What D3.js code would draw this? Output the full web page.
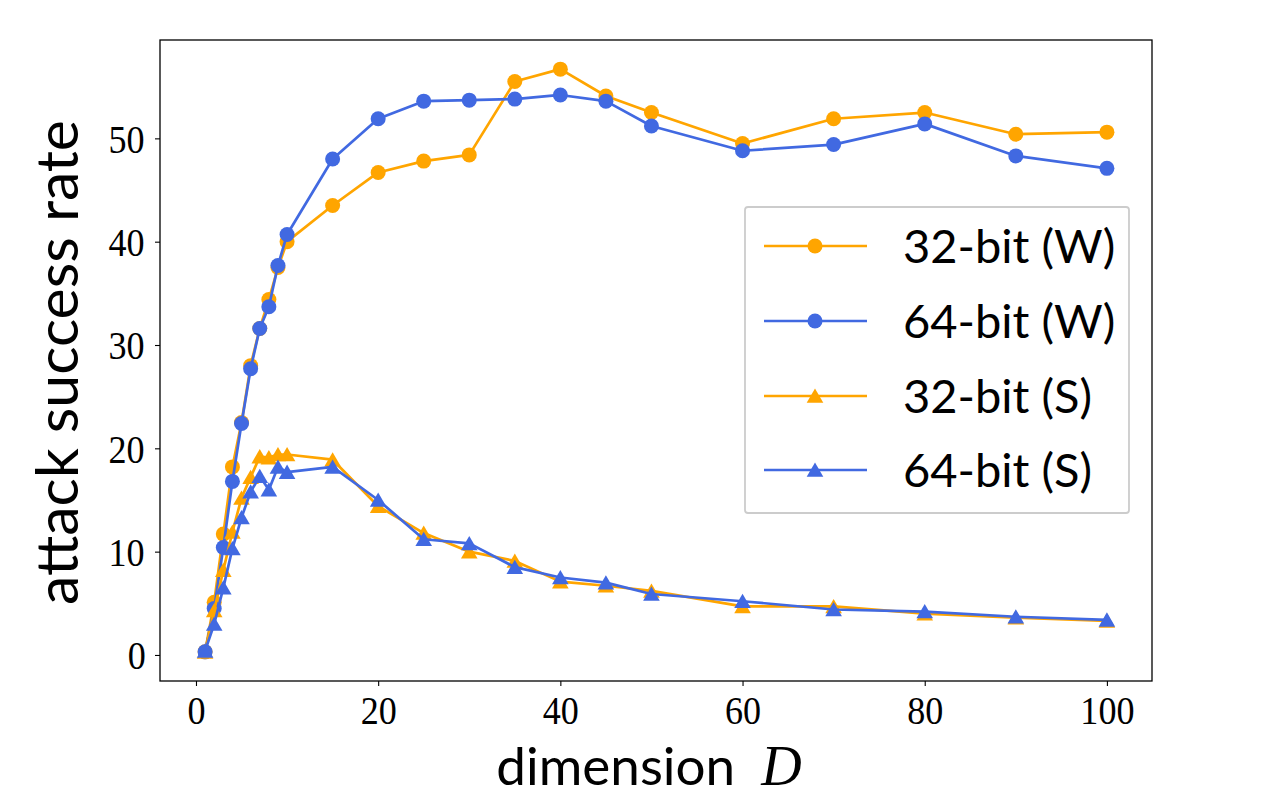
<!DOCTYPE html>
<html>
<head>
<meta charset="utf-8">
<script src="https://cdn.jsdelivr.net/npm/d3@7"></script>
<style>
  html, body { margin: 0; padding: 0; background: #fff; }
  svg { display: block; }
  .tick text { transform-box: fill-box; transform-origin: center; transform: scaleX(0.88); }
</style>
</head>
<body>
<svg id="chart" width="1280" height="800"></svg>
<script>
// ---- data ----
const dims = [1,2,3,4,5,6,7,8,9,10,15,20,25,30,35,40,45,50,60,70,80,90,100];
const w32 = [0.3,5.1,11.7,18.2,22.5,28.0,31.6,34.4,37.5,40.0,43.5,46.7,47.8,48.4,55.5,56.7,54.1,52.5,49.5,51.9,52.5,50.4,50.6];
const w64 = [0.3,4.5,10.4,16.8,22.4,27.7,31.6,33.7,37.7,40.7,48.0,51.9,53.6,53.7,53.8,54.2,53.6,51.2,48.8,49.4,51.4,48.3,47.1];
const s32 = [0.3,4.3,8.2,11.9,15.2,17.2,19.2,19.1,19.4,19.4,18.9,14.4,11.8,10.0,9.1,7.1,6.7,6.2,4.7,4.7,4.0,3.6,3.3];
const s64 = [0.4,3.0,6.5,10.3,13.3,15.8,17.3,16.0,18.2,17.7,18.2,15.0,11.2,10.8,8.5,7.5,7.0,5.9,5.2,4.4,4.2,3.7,3.4];
const seriesNames = ["32-bit (W)", "64-bit (W)", "32-bit (S)", "64-bit (S)"];
const xTicks = [0,20,40,60,80,100];
const yTicks = [0,10,20,30,40,50];

const ORANGE = "#FFA500", BLUE = "#4169E1";
const series = [
  {name: seriesNames[0], values: w32, color: ORANGE, marker: "circle"},
  {name: seriesNames[1], values: w64, color: BLUE,   marker: "circle"},
  {name: seriesNames[2], values: s32, color: ORANGE, marker: "triangle"},
  {name: seriesNames[3], values: s64, color: BLUE,   marker: "triangle"}
];

// ---- layout ----
const L = 160, R = 1152, T = 40, B = 681;
const svg = d3.select("#chart");

const xExt = d3.extent(dims), xPad = (xExt[1]-xExt[0])*0.05;
const allY = [].concat(w32, w64, s32, s64);
const yExt = d3.extent(allY), yPad = (yExt[1]-yExt[0])*0.05;

const x = d3.scaleLinear().domain([xExt[0]-xPad, xExt[1]+xPad]).range([L, R]);
const y = d3.scaleLinear().domain([yExt[0]-yPad, yExt[1]+yPad]).range([B, T]);

const tickFont = "'Liberation Serif', 'Times New Roman', serif";
const sansFont = "Lato, 'Noto Sans', sans-serif";

// axes
const xAxis = svg.append("g").attr("transform", `translate(0,${B})`)
  .call(d3.axisBottom(x).tickValues(xTicks).tickSize(5).tickPadding(8).tickFormat(d3.format("d")));
const yAxis = svg.append("g").attr("transform", `translate(${L},0)`)
  .call(d3.axisLeft(y).tickValues(yTicks).tickSize(5).tickPadding(10).tickFormat(d3.format("d")));
[xAxis, yAxis].forEach(g => {
  g.select(".domain").remove();
  g.selectAll(".tick line").attr("stroke", "#000").attr("stroke-width", 1.1);
  g.selectAll(".tick text").attr("fill", "#000")
    .style("font-family", tickFont).style("font-size", "41px");
});
xAxis.selectAll(".tick text").attr("dy", "0.72em");
yAxis.selectAll(".tick text").attr("dy", "0.34em").attr("x", -13);

// clip
svg.append("clipPath").attr("id", "clip").append("rect")
  .attr("x", L).attr("y", T).attr("width", R-L).attr("height", B-T);

const triPath = "M0,-7.5L8.3,6.8L-8.3,6.8Z";
const line = d3.line().x(d => x(d[0])).y(d => y(d[1]));
const plot = svg.append("g").attr("clip-path", "url(#clip)");

series.forEach(s => {
  const pts = dims.map((d, i) => [d, s.values[i]]);
  const g = plot.append("g");
  g.append("path").datum(pts).attr("d", line)
    .attr("fill", "none").attr("stroke", s.color).attr("stroke-width", 2.7)
    .attr("stroke-linejoin", "round");
  if (s.marker === "circle") {
    g.selectAll("circle").data(pts).join("circle")
      .attr("cx", d => x(d[0])).attr("cy", d => y(d[1])).attr("r", 7.5)
      .attr("fill", s.color);
  } else {
    g.selectAll("path.m").data(pts).join("path").attr("class", "m")
      .attr("transform", d => `translate(${x(d[0])},${y(d[1])})`)
      .attr("d", triPath).attr("fill", s.color);
  }
});

// frame
svg.append("rect").attr("x", L).attr("y", T).attr("width", R-L).attr("height", B-T)
  .attr("fill", "none").attr("stroke", "#000").attr("stroke-width", 1.3);

// axis labels
const xl = svg.append("text").attr("x", 649).attr("y", 785).attr("text-anchor", "middle")
  .style("font-family", sansFont).style("font-size", "53px").attr("fill", "#000");
xl.append("tspan").text("dimension");
xl.append("tspan").attr("dx", 26).style("font-family", tickFont).style("font-style", "italic")
  .style("font-size", "56px").text("D");

svg.append("text").attr("transform", `translate(78,${(T+B)/2 + 2}) rotate(-90)`)
  .attr("text-anchor", "middle")
  .style("font-family", sansFont).style("font-size", "59px").attr("fill", "#000")
  .text("attack success rate");

// legend
const lg = svg.append("g");
lg.append("rect").attr("x", 745).attr("y", 207).attr("width", 384).attr("height", 306)
  .attr("rx", 3).attr("fill", "rgba(255,255,255,0.85)").attr("stroke", "#cccccc").attr("stroke-width", 1.8);
const rowY = [246, 321, 396, 470];
series.forEach((s, i) => {
  const yy = rowY[i];
  lg.append("line").attr("x1", 764).attr("x2", 867).attr("y1", yy).attr("y2", yy)
    .attr("stroke", s.color).attr("stroke-width", 2.7);
  if (s.marker === "circle") {
    lg.append("circle").attr("cx", 815).attr("cy", yy).attr("r", 7.5).attr("fill", s.color);
  } else {
    lg.append("path").attr("transform", `translate(815,${yy})`).attr("d", triPath).attr("fill", s.color);
  }
  lg.append("text").attr("x", 903).attr("y", yy).attr("dy", "0.36em")
    .style("font-family", sansFont).style("font-size", "47px").attr("fill", "#000")
    .text(s.name);
});
</script>
</body>
</html>
